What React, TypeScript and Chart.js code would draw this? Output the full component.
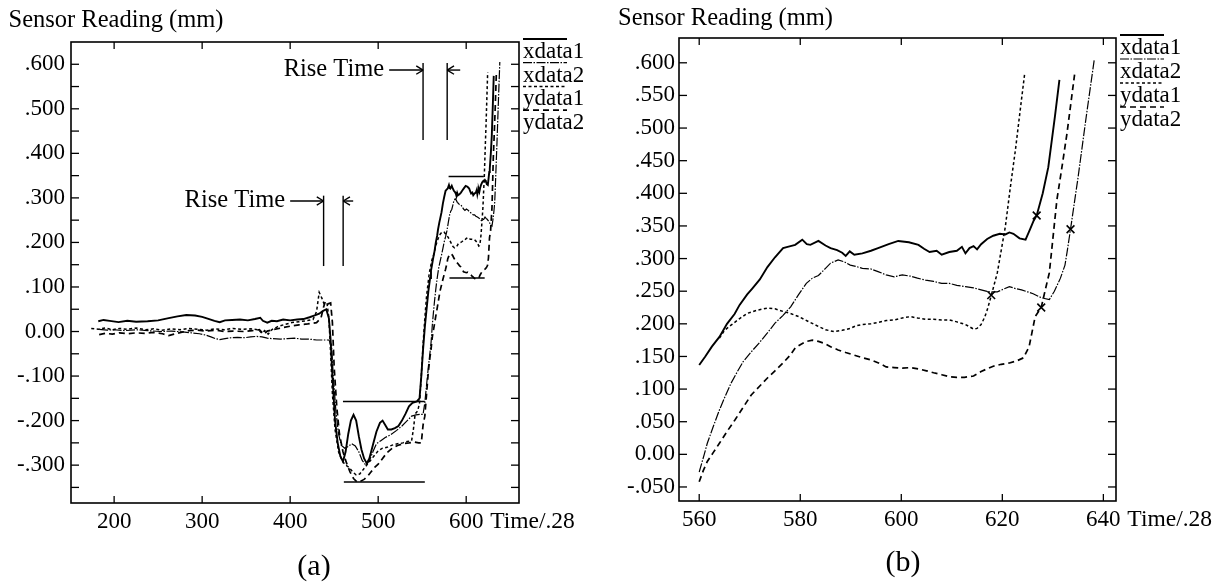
import React, { useEffect, useRef } from "react";
import { Chart, registerables } from "chart.js";
Chart.register(...registerables);

type P = [number, number];

const seriesNames = ["xdata1", "xdata2", "ydata1", "ydata2"];

// ---------- Panel (a): readings before t = 560 ----------
const aXdata1: P[] = [
  [182, 0.023], [188, 0.026], [195, 0.024], [205, 0.021], [215, 0.024], [225, 0.022], [238, 0.023], [250, 0.025],
  [262, 0.03], [272, 0.034], [282, 0.037], [292, 0.036], [300, 0.033], [308, 0.028], [314, 0.024], [320, 0.021],
  [326, 0.025], [334, 0.026], [343, 0.027], [352, 0.025], [360, 0.028], [366, 0.031], [369, 0.024], [374, 0.02],
  [379, 0.024], [385, 0.023], [392, 0.027], [400, 0.025], [408, 0.027], [415, 0.028], [422, 0.032], [428, 0.036],
  [433, 0.04], [437, 0.046], [441, 0.05], [444, 0.03], [446, -0.02], [448, -0.1], [451, -0.2], [454, -0.25],
  [457, -0.28], [460, -0.292], [463, -0.27], [466, -0.23], [469, -0.2], [472, -0.187], [475, -0.2], [478, -0.235],
  [481, -0.265], [484, -0.285], [487, -0.296], [490, -0.285], [494, -0.255], [498, -0.225], [502, -0.205], [505, -0.2],
  [508, -0.21], [511, -0.22], [515, -0.22], [519, -0.217], [523, -0.212], [527, -0.2], [531, -0.185], [535, -0.168],
  [539, -0.16], [544, -0.157], [547, -0.15], [549, -0.1], [551, -0.04], [553, 0.01], [555, 0.05], [557, 0.09], [559, 0.12],
];
const aXdata2: P[] = [
  [183, 0.005], [192, 0.003], [200, 0.004], [212, 0.002], [225, 0.004], [238, 0.002], [252, 0.0], [265, 0.001],
  [278, -0.001], [288, -0.003], [297, -0.005], [304, -0.008], [310, -0.012], [315, -0.016], [320, -0.018], [326, -0.016],
  [333, -0.014], [340, -0.013], [348, -0.014], [355, -0.012], [362, -0.011], [368, -0.012], [374, -0.015], [380, -0.016],
  [389, -0.017], [397, -0.016], [405, -0.015], [413, -0.017], [421, -0.017], [430, -0.019], [438, -0.019], [444, -0.019],
  [447, -0.03], [449, -0.1], [452, -0.18], [455, -0.23], [458, -0.255], [462, -0.262], [466, -0.258], [470, -0.252],
  [474, -0.257], [478, -0.27], [482, -0.29], [486, -0.3], [490, -0.29], [494, -0.27], [498, -0.252], [503, -0.245],
  [508, -0.238], [514, -0.232], [521, -0.222], [527, -0.212], [533, -0.2], [538, -0.19], [543, -0.187], [548, -0.186],
  [551, -0.186], [553, -0.16], [555, -0.12], [557, -0.08], [559, -0.045],
];
const aYdata1: P[] = [
  [174, 0.007], [182, 0.005], [190, 0.008], [198, 0.004], [206, 0.007], [215, 0.005], [225, 0.008], [235, 0.004],
  [245, 0.006], [255, 0.003], [265, 0.006], [275, 0.004], [285, 0.007], [295, 0.005], [305, 0.003], [315, 0.006],
  [325, 0.004], [335, 0.007], [345, 0.005], [355, 0.006], [364, 0.004], [368, -0.004], [371, 0.002], [375, -0.006],
  [379, 0.004], [386, 0.011], [394, 0.016], [402, 0.02], [410, 0.022], [418, 0.024], [426, 0.027], [430, 0.045],
  [433, 0.088], [436, 0.075], [439, 0.06], [442, 0.062], [444, 0.03], [446, -0.05], [448, -0.14], [451, -0.22],
  [455, -0.27], [459, -0.29], [463, -0.3], [467, -0.305], [471, -0.315], [475, -0.322], [479, -0.32], [483, -0.31],
  [487, -0.3], [491, -0.29], [495, -0.28], [500, -0.268], [505, -0.262], [510, -0.26], [516, -0.255], [522, -0.252],
  [528, -0.25], [533, -0.247], [538, -0.245], [540, -0.22], [542, -0.185], [545, -0.178], [547, -0.16], [549, -0.1],
  [551, -0.03], [553, 0.03], [555, 0.08], [558, 0.13], [561, 0.16],
];
const aYdata2: P[] = [
  [183, -0.007], [190, -0.004], [198, -0.006], [206, -0.003], [215, -0.005], [225, -0.003], [235, -0.004], [245, -0.002],
  [255, -0.005], [262, -0.009], [268, -0.006], [276, -0.002], [285, 0.002], [295, 0.003], [305, 0.001], [315, 0.003],
  [325, 0.0], [335, 0.001], [347, 0.0], [357, 0.002], [365, 0.004], [370, -0.006], [374, 0.001], [380, 0.004],
  [390, 0.008], [400, 0.012], [410, 0.015], [420, 0.017], [430, 0.02], [435, 0.03], [438, 0.055], [440, 0.068],
  [443, 0.062], [446, 0.064], [448, 0.02], [450, -0.08], [453, -0.17], [456, -0.23], [460, -0.27], [464, -0.295],
  [468, -0.315], [472, -0.33], [476, -0.338], [480, -0.336], [484, -0.332], [488, -0.325], [492, -0.315], [496, -0.305],
  [500, -0.298], [505, -0.285], [510, -0.272], [516, -0.262], [522, -0.256], [528, -0.252], [535, -0.25], [541, -0.248],
  [546, -0.25], [549, -0.25], [551, -0.21], [553, -0.19], [555, -0.14], [557, -0.09], [559, -0.055],
];

// ---------- Panel (b): readings from t = 560 (also the tail of panel a) ----------
const bXdata1: P[] = [
  [560, 0.137], [561.2, 0.15], [562.5, 0.165], [564, 0.18], [565.5, 0.2], [567, 0.215], [568, 0.229], [569.5, 0.245],
  [570.5, 0.254], [572, 0.268], [573.5, 0.287], [575, 0.302], [576.6, 0.316], [577.5, 0.318], [579, 0.321], [580.4, 0.329],
  [581.3, 0.322], [582, 0.321], [583.6, 0.327], [585, 0.32], [586, 0.316], [587.3, 0.313], [588.3, 0.309], [589, 0.304],
  [589.8, 0.311], [590.7, 0.306], [592.3, 0.308], [594, 0.312], [595.4, 0.316], [597.5, 0.322], [599.4, 0.327], [601.5, 0.325],
  [603.4, 0.321], [604.5, 0.315], [605.6, 0.31], [607, 0.312], [608, 0.306], [609.5, 0.31], [611, 0.312], [612, 0.318],
  [612.7, 0.308], [613.5, 0.316], [614.3, 0.319], [615, 0.314], [615.8, 0.322], [617, 0.33], [618.2, 0.335], [619.5, 0.338],
  [620.6, 0.337], [621.4, 0.34], [622.2, 0.338], [623.4, 0.331], [624.6, 0.329], [625.5, 0.345], [626.2, 0.358], [626.8, 0.366],
  [628, 0.4], [629.1, 0.44], [630.4, 0.517], [631.3, 0.574],
];
const bXdata2: P[] = [
  [560, -0.027], [561, 0.0], [561.6, 0.017], [562.8, 0.043], [564, 0.068], [565.2, 0.09], [566.3, 0.109], [567.5, 0.126],
  [568.7, 0.142], [570.3, 0.157], [571.9, 0.171], [573.5, 0.186], [575, 0.201], [576.6, 0.213], [578.1, 0.226], [579.6, 0.244],
  [581.2, 0.262], [582.4, 0.27], [583.6, 0.274], [585, 0.285], [586, 0.293], [587.5, 0.298], [588.7, 0.295], [589.9, 0.29],
  [591, 0.288], [592.3, 0.285], [594, 0.284], [595.4, 0.28], [597, 0.275], [598.6, 0.272], [600.2, 0.275], [601.8, 0.273],
  [603.2, 0.27], [604.8, 0.267], [606.4, 0.265], [608, 0.262], [609.5, 0.262], [611, 0.259], [612.7, 0.257], [614.3, 0.255],
  [615.8, 0.252], [617.4, 0.249], [619, 0.249], [620.2, 0.253], [621.4, 0.257], [622.6, 0.254], [623.8, 0.252], [625, 0.249],
  [626.1, 0.246], [627.7, 0.24], [629.3, 0.237], [630.3, 0.25], [631.5, 0.27], [632.4, 0.29], [632.8, 0.309], [633.5, 0.345],
  [635, 0.425], [636.6, 0.517], [638.2, 0.605],
];
const bYdata1: P[] = [
  [564, 0.178], [565, 0.19], [566.3, 0.198], [568, 0.208], [569.5, 0.216], [571.5, 0.221], [573.5, 0.224], [575, 0.223],
  [576.6, 0.219], [578, 0.216], [579.7, 0.211], [581.5, 0.204], [583.6, 0.196], [585, 0.191], [586.7, 0.188], [588.3, 0.19],
  [589.9, 0.193], [591, 0.197], [592.3, 0.199], [594, 0.2], [595.4, 0.202], [597, 0.205], [598.6, 0.206], [600.2, 0.209],
  [601.8, 0.211], [603.2, 0.209], [604.8, 0.207], [606.4, 0.207], [608, 0.206], [609.5, 0.206], [611, 0.203], [612.7, 0.199],
  [614.3, 0.192], [615, 0.193], [615.8, 0.199], [616.5, 0.21], [617, 0.221], [617.8, 0.243], [619, 0.278], [620.6, 0.349],
  [621.6, 0.41], [622.6, 0.467], [623.5, 0.525], [624.4, 0.582],
];
const bYdata2: P[] = [
  [560, -0.042], [560.8, -0.025], [561.6, -0.011], [562.8, 0.003], [564, 0.017], [565.5, 0.035], [567.1, 0.053], [568.7, 0.072],
  [570.3, 0.091], [571.9, 0.104], [573.5, 0.117], [575, 0.128], [576.6, 0.14], [578, 0.152], [579, 0.163], [580, 0.168],
  [581.2, 0.173], [582.4, 0.175], [583.6, 0.173], [584.8, 0.17], [586, 0.165], [587.5, 0.16], [589, 0.156], [590.7, 0.152],
  [592.3, 0.148], [593.9, 0.145], [595.5, 0.14], [597, 0.134], [598.6, 0.133], [600.2, 0.132], [601.8, 0.133], [603.4, 0.131],
  [605, 0.128], [606.4, 0.125], [608, 0.122], [609.5, 0.119], [611, 0.118], [612.5, 0.118], [614.3, 0.12], [615.8, 0.127],
  [617, 0.131], [618.2, 0.135], [619.8, 0.138], [621.4, 0.14], [622.8, 0.143], [624.2, 0.148], [625.3, 0.165], [626.5, 0.211],
  [627.7, 0.225], [628.5, 0.252], [629.3, 0.278], [630, 0.33], [630.8, 0.39], [631.8, 0.44], [632.8, 0.492], [633.6, 0.54],
  [634.3, 0.582],
];
// crossing marks in panel (b)
const bMarks: P[] = [[626.8, 0.366], [633.5, 0.345], [617.8, 0.244], [627.7, 0.225]];

// ---------- annotations of panel (a) ----------
const aRiseLines: P[][] = [
  [[438, 0.147], [438, 0.305]],
  [[460.2, 0.147], [460.2, 0.305]],
  [[551, 0.43], [551, 0.603]],
  [[578.4, 0.43], [578.4, 0.603]],
];
const aLevelLines: P[][] = [
  [[460, -0.157], [553, -0.157]],
  [[461, -0.338], [553, -0.338]],
  [[580, 0.348], [620, 0.348]],
  [[581, 0.12], [621, 0.12]],
];
const aArrows: { from: P; to: P }[] = [
  { from: [400, 0.293], to: [438, 0.293] },
  { from: [471.6, 0.293], to: [460.2, 0.293] },
  { from: [512.5, 0.587], to: [551, 0.587] },
  { from: [593.2, 0.587], to: [578.4, 0.587] },
];
const aRiseText: { text: string; at: P }[] = [
  { text: "Rise Time", at: [394.3, 0.293] },
  { text: "Rise Time", at: [506.8, 0.587] },
];

// ---------- ticks ----------
const aXTicks = [200, 300, 400, 500, 600];
const aYTicks = [-0.35, -0.3, -0.25, -0.2, -0.15, -0.1, -0.05, 0, 0.05, 0.1, 0.15, 0.2, 0.25, 0.3, 0.35, 0.4, 0.45, 0.5, 0.55, 0.6];
const aYLabelled = [-0.3, -0.2, -0.1, 0, 0.1, 0.2, 0.3, 0.4, 0.5, 0.6];
const bXTicks = [560, 580, 600, 620, 640];
const bYTicks = [-0.05, 0, 0.05, 0.1, 0.15, 0.2, 0.25, 0.3, 0.35, 0.4, 0.45, 0.5, 0.55, 0.6];

const SERIF = '"Liberation Serif", "Times New Roman", serif';

const lineStyles = [
  { borderWidth: 1.9, borderDash: [] as number[] },
  { borderWidth: 1.2, borderDash: [9, 1.5, 1.5, 1.5] },
  { borderWidth: 1.5, borderDash: [3, 2.5] },
  { borderWidth: 1.7, borderDash: [6, 4] },
];

function fmtTick(v: number): string {
  const r = Math.round(v * 1000);
  if (r === 0) return "0.00";
  return (r < 0 ? "-" : "") + "." + String(Math.abs(r)).padStart(3, "0");
}

const toXY = (pts: P[]) => pts.map(([x, y]) => ({ x, y }));

type PanelCfg = {
  id: string;
  width: number;
  xMin: number; xMax: number; yMin: number; yMax: number;
  padding: { left: number; top: number; right: number; bottom: number };
  yAxisWidth: number;
  yLabelPad: number;
  xTicks: number[]; yTicks: number[];
  yLabel: (v: number) => string;
  series: P[][];
  extraLines: P[][];
  marks: P[];
  arrows: { from: P; to: P }[];
  notes: { text: string; at: P }[];
  title: { x: number; y: number };
  caption: { text: string; x: number; y: number };
  legendStep: number;
};

function makeOverlay(cfg: PanelCfg) {
  return {
    id: "overlay_" + cfg.id,
    afterDraw(chart: any) {
      const ctx: CanvasRenderingContext2D = chart.ctx;
      const { left, right, top, bottom } = chart.chartArea;
      const xs = chart.scales.x;
      const ys = chart.scales.y;
      const seg = (x1: number, y1: number, x2: number, y2: number) => {
        ctx.beginPath(); ctx.moveTo(x1, y1); ctx.lineTo(x2, y2); ctx.stroke();
      };
      ctx.save();
      ctx.strokeStyle = "#000";
      ctx.fillStyle = "#000";
      ctx.setLineDash([]);
      // frame
      ctx.lineWidth = 1.6;
      ctx.strokeRect(left, top, right - left, bottom - top);
      // inward tick marks
      ctx.lineWidth = 1.3;
      for (const v of cfg.xTicks) {
        const p = xs.getPixelForValue(v);
        seg(p, bottom, p, bottom - 7);
        seg(p, top, p, top + 7);
      }
      for (const v of cfg.yTicks) {
        const p = ys.getPixelForValue(v);
        seg(left, p, left + 8, p);
        seg(right, p, right - 8, p);
      }
      // legend (sample line above each label)
      const lx = right + 4;
      ctx.font = `23px ${SERIF}`;
      ctx.textAlign = "left";
      ctx.textBaseline = "middle";
      chart.data.datasets.slice(0, 4).forEach((ds: any, i: number) => {
        const ly = top - 3 + i * cfg.legendStep;
        ctx.lineWidth = Math.min(ds.borderWidth, 1.8);
        ctx.setLineDash(ds.borderDash || []);
        seg(lx, ly, lx + 44, ly);
        ctx.setLineDash([]);
        ctx.fillText(ds.label, lx, ly + 13);
      });
      // x axis name after the last tick label
      ctx.font = `23.5px ${SERIF}`;
      const lastTick = cfg.xTicks[cfg.xTicks.length - 1];
      ctx.fillText("Time/.28", xs.getPixelForValue(lastTick) + 24, bottom + 19);
      // y axis name
      ctx.font = `24.5px ${SERIF}`;
      ctx.textBaseline = "alphabetic";
      ctx.fillText("Sensor Reading (mm)", cfg.title.x, cfg.title.y);
      // annotation arrows
      ctx.lineWidth = 1.4;
      for (const a of cfg.arrows) {
        const x1 = xs.getPixelForValue(a.from[0]);
        const y1 = ys.getPixelForValue(a.from[1]);
        const x2 = xs.getPixelForValue(a.to[0]);
        const y2 = ys.getPixelForValue(a.to[1]);
        seg(x1, y1, x2, y2);
        const ang = Math.atan2(y2 - y1, x2 - x1);
        const h = 8;
        seg(x2, y2, x2 - h * Math.cos(ang - 0.55), y2 - h * Math.sin(ang - 0.55));
        seg(x2, y2, x2 - h * Math.cos(ang + 0.55), y2 - h * Math.sin(ang + 0.55));
      }
      ctx.font = `24.5px ${SERIF}`;
      ctx.textAlign = "right";
      ctx.textBaseline = "middle";
      for (const n of cfg.notes) {
        ctx.fillText(n.text, xs.getPixelForValue(n.at[0]), ys.getPixelForValue(n.at[1]));
      }
      // caption
      ctx.font = `30px ${SERIF}`;
      ctx.textAlign = "center";
      ctx.fillText(cfg.caption.text, cfg.caption.x, cfg.caption.y);
      ctx.restore();
    },
  };
}

function buildConfig(cfg: PanelCfg): any {
  const datasets: any[] = cfg.series.map((pts, i) => ({
    label: seriesNames[i],
    data: toXY(pts),
    borderColor: "#000",
    borderWidth: lineStyles[i].borderWidth,
    borderDash: lineStyles[i].borderDash,
    pointRadius: 0,
    fill: false,
    tension: 0,
  }));
  cfg.extraLines.forEach((pts) =>
    datasets.push({ label: "", data: toXY(pts), borderColor: "#000", borderWidth: 1.4, pointRadius: 0, fill: false })
  );
  if (cfg.marks.length) {
    datasets.push({
      label: "",
      data: toXY(cfg.marks),
      showLine: false,
      pointStyle: "crossRot",
      pointRadius: 5.5,
      pointBorderWidth: 1.6,
      pointBorderColor: "#000",
      borderColor: "#000",
    });
  }
  const tickFont = { family: SERIF, size: 23 };
  return {
    type: "line",
    data: { datasets },
    options: {
      animation: false,
      responsive: false,
      maintainAspectRatio: false,
      devicePixelRatio: 1,
      layout: { padding: cfg.padding },
      events: [],
      plugins: { legend: { display: false }, tooltip: { enabled: false }, title: { display: false } },
      scales: {
        x: {
          type: "linear",
          min: cfg.xMin,
          max: cfg.xMax,
          bounds: "data",
          grid: { display: false, drawTicks: false },
          border: { display: false },
          afterBuildTicks: (s: any) => { s.ticks = cfg.xTicks.map((v) => ({ value: v })); },
          afterFit: (s: any) => { s.height = 30; },
          ticks: {
            autoSkip: false, maxRotation: 0, minRotation: 0, padding: 5, color: "#000", font: tickFont,
            callback: (v: number) => String(v),
          },
        },
        y: {
          type: "linear",
          min: cfg.yMin,
          max: cfg.yMax,
          bounds: "data",
          grid: { display: false, drawTicks: false },
          border: { display: false },
          afterBuildTicks: (s: any) => { s.ticks = cfg.yTicks.map((v) => ({ value: v })); },
          afterFit: (s: any) => { s.width = cfg.yAxisWidth; },
          ticks: {
            autoSkip: false, padding: cfg.yLabelPad, color: "#000", font: tickFont,
            callback: (v: number) => cfg.yLabel(v),
          },
        },
      },
    },
    plugins: [makeOverlay(cfg)],
  };
}

const panelA: PanelCfg = {
  id: "a",
  width: 600,
  xMin: 151, xMax: 660, yMin: -0.385, yMax: 0.65,
  padding: { left: 0, top: 42, right: 81, bottom: 50 },
  yAxisWidth: 71,
  yLabelPad: 6,
  xTicks: aXTicks, yTicks: aYTicks,
  yLabel: (v) => (aYLabelled.some((l) => Math.abs(l - v) < 1e-6) ? fmtTick(v) : ""),
  series: [
    [...aXdata1, ...bXdata1],
    [...aXdata2, ...bXdata2],
    [...aYdata1, ...bYdata1],
    [...aYdata2, ...bYdata2],
  ],
  extraLines: [...aRiseLines, ...aLevelLines],
  marks: [],
  arrows: aArrows,
  notes: aRiseText,
  title: { x: 8.5, y: 27 },
  caption: { text: "(a)", x: 314, y: 567 },
  legendStep: 23.7,
};

const panelB: PanelCfg = {
  id: "b",
  width: 622,
  xMin: 556, xMax: 642.5, yMin: -0.0715, yMax: 0.638,
  padding: { left: 0, top: 38, right: 106, bottom: 52 },
  yAxisWidth: 79,
  yLabelPad: 4,
  xTicks: bXTicks, yTicks: bYTicks,
  yLabel: (v) => fmtTick(v),
  series: [bXdata1, bXdata2, bYdata1, bYdata2],
  extraLines: [],
  marks: bMarks,
  arrows: [],
  notes: [],
  title: { x: 18, y: 25 },
  caption: { text: "(b)", x: 303, y: 563 },
  legendStep: 24,
};

function Panel({ cfg, left }: { cfg: PanelCfg; left: number }) {
  const ref = useRef<HTMLCanvasElement>(null);
  useEffect(() => {
    if (!ref.current) return;
    const chart = new Chart(ref.current, buildConfig(cfg));
    return () => chart.destroy();
  }, [cfg]);
  return (
    <canvas
      ref={ref}
      width={cfg.width}
      height={583}
      style={{ position: "absolute", left, top: 0, width: cfg.width, height: 583 }}
    />
  );
}

export default function App() {
  return (
    <div style={{ position: "absolute", left: 0, top: 0, width: 1222, height: 583, background: "#fff", overflow: "hidden" }}>
      <Panel cfg={panelA} left={0} />
      <Panel cfg={panelB} left={600} />
    </div>
  );
}
